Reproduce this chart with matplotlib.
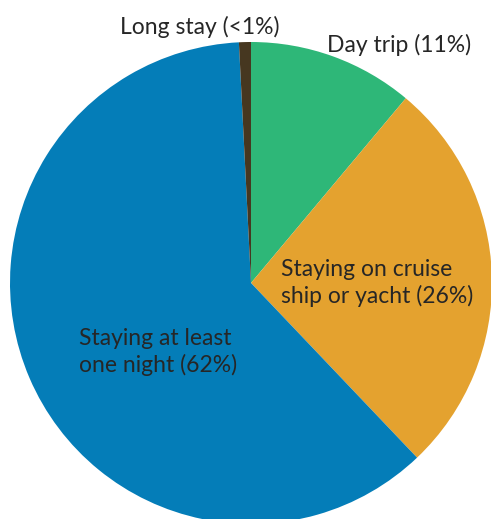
import matplotlib
matplotlib.use("Agg")
import matplotlib.pyplot as plt

categories = ["Day trip", "Staying on cruise ship or yacht",
              "Staying at least one night", "Long stay"]
shares = [11.1, 26.8, 61.3, 0.8]
labels = ["Day trip (11%)", "Staying on cruise\nship or yacht (26%)",
          "Staying at least\none night (62%)", "Long stay (<1%)"]
colors = ["#2eb778", "#e4a22f", "#047db8", "#463720"]

W, H = 491, 519
fig = plt.figure(figsize=(W / 100, H / 100), dpi=100)
ax = fig.add_axes([0, 0, 1, 1])

cx, cy, r = 251, H - 283, 241
ax.pie(shares, colors=colors, startangle=90, counterclock=False,
       center=(cx, cy), radius=r, frame=True,
       wedgeprops=dict(linewidth=0))
ax.set_xlim(0, W)
ax.set_ylim(0, H)
ax.set_aspect("equal")
ax.axis("off")

font = ["Lato", "DejaVu Sans"]
tc = "#262626"
fs = 16.5
# outside labels
ax.text(200, H - 27, labels[3], ha="center", va="center", fontsize=fs,
        color=tc, family=font)
ax.text(399, H - 45, labels[0], ha="center", va="center", fontsize=fs,
        color=tc, family=font)
# inside labels
ax.text(281, H - 283, labels[1], ha="left", va="center", fontsize=fs,
        color=tc, family=font, linespacing=1.3)
ax.text(79, H - 352, labels[2], ha="left", va="center", fontsize=fs,
        color=tc, family=font, linespacing=1.3)

fig.savefig("out.png", dpi=100)
